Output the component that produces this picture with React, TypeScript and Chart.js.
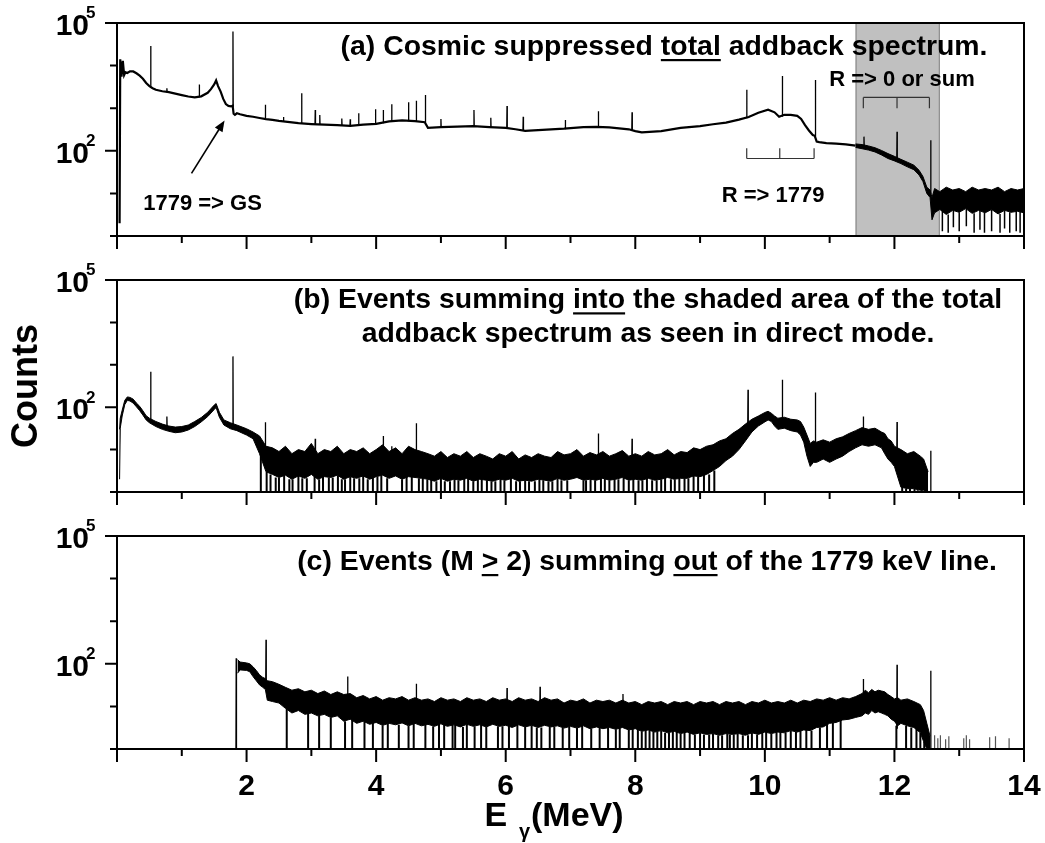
import React, { useEffect, useRef } from "react";
import { Chart, registerables } from "chart.js";

Chart.register(...registerables);

const FONT = '"Liberation Sans", Arial, Helvetica, sans-serif';

// ---------------- axes ----------------
const xMajorTicks = [0, 2, 4, 6, 8, 10, 12, 14];
const xMinorTicks = [1, 3, 5, 7, 9, 11, 13];
const xTickLabels = ["", "2", "4", "6", "8", "10", "12", "14"];
const yDecadeTicks = [1, 10, 100, 1000, 10000, 100000];
const yLabelTicks = [100, 100000];
const yLabelBase = ["10", "10"];
const yLabelExp = ["2", "5"];

// ---------------- panel (a): total addback spectrum ----------------
const aE = [0.04, 0.05, 0.07, 0.09, 0.11, 0.13, 0.16, 0.2, 0.25, 0.3, 0.35, 0.4, 0.45, 0.5, 0.55, 0.6, 0.7, 0.8, 0.9, 1.0,
  1.1, 1.2, 1.3, 1.4, 1.45, 1.5, 1.53, 1.56, 1.6, 1.64, 1.68, 1.72, 1.76, 1.785, 1.8, 1.82, 1.85, 1.9, 2.0, 2.1,
  2.2, 2.3, 2.4, 2.5, 2.6, 2.7, 2.8, 2.9, 3.0, 3.2, 3.4, 3.6, 3.8, 4.0, 4.2, 4.4, 4.6, 4.75, 4.8, 5.0,
  5.25, 5.5, 5.75, 6.0, 6.15, 6.3, 6.5, 6.7, 6.9, 7.2, 7.4, 7.6, 7.9, 8.0, 8.1, 8.4, 8.7, 9.0, 9.2, 9.4,
  9.6, 9.75, 9.9, 10.05, 10.15, 10.22, 10.3, 10.4, 10.5, 10.56, 10.62, 10.68, 10.74, 10.77, 10.8, 10.84, 10.95, 11.1, 11.25, 11.4];
const aCounts = [2, 14000, 5500, 13000, 6000, 7000, 6700, 7300, 7300, 6600, 5800, 4900, 3900, 3300, 2950, 2700, 2500, 2380, 2200, 2030,
  1880, 1800, 1900, 2300, 2800, 3600, 4500, 3300, 2450, 1650, 1250, 1130, 1100, 1150, 740, 700, 760, 720, 660, 630,
  590, 555, 530, 505, 485, 465, 445, 435, 425, 410, 400, 385, 410, 430, 490, 520, 495, 470, 345, 360,
  370, 380, 360, 345, 320, 295, 305, 320, 330, 360, 365, 355, 320, 290, 270, 290, 345, 380, 420, 460,
  540, 620, 780, 920, 800, 630, 700, 700, 660, 560, 400, 300, 235, 225, 165, 160, 152, 148, 142, 132];
const aBandE = [11.4, 11.5, 11.6, 11.7, 11.8, 11.9, 12.0, 12.1, 12.2, 12.3, 12.38, 12.44, 12.5, 12.55, 12.58,
  12.62, 12.7, 12.8, 12.9, 13.0, 13.1, 13.2, 13.3, 13.4, 13.5, 13.6, 13.7, 13.8, 13.9, 14.0];
const aBandHi = [145, 140, 130, 118, 102, 86, 74, 63, 54, 46, 35, 25, 14, 12, 8,
  13, 11, 14, 12, 13, 11, 14, 12, 13, 12, 14, 11, 13, 12, 13];
const aBandLo = [120, 112, 104, 94, 80, 66, 58, 50, 42, 36, 27, 19, 10, 8, 2.4,
  3.5, 4.2, 3.2, 4, 3.6, 4.4, 3.4, 4, 3.5, 4.2, 3.3, 4, 3.6, 3.8, 3.5];
const aPeakE = [0.52, 0.77, 1.27, 1.79, 2.29, 2.57, 2.85, 3.06, 3.13, 3.47, 3.6, 3.73, 3.99, 4.11, 4.24, 4.5,
  4.62, 4.76, 5.0, 5.51, 5.77, 6.02, 6.27, 6.92, 7.43, 7.95, 9.72, 10.27, 10.78, 11.53, 12.04, 12.56];
const aPeakTop = [29000, 2950, 3600, 63000, 1200, 620, 2240, 910, 690, 575, 550, 760, 950, 910, 1230, 1380,
  1500, 2040, 560, 910, 600, 1120, 630, 525, 850, 800, 2700, 5700, 4600, 215, 280, 178];
const aPeakBase = [3300, 2400, 1880, 1100, 555, 490, 440, 420, 415, 400, 390, 395, 430, 460, 500, 515,
  500, 470, 360, 380, 360, 340, 300, 330, 365, 300, 600, 650, 225, 125, 62, 10];
const aDropE = [12.74, 12.83, 12.91, 13.0, 13.11, 13.23, 13.32, 13.39, 13.5, 13.63, 13.7, 13.78, 13.88, 13.94];
const aDropMin = [1.3, 1.2, 1.6, 1.3, 1.7, 1.2, 1.4, 1.2, 1.3, 1.2, 1.5, 1.2, 1.3, 1.2];
const aShade = [11.4, 12.7];

// ---------------- panel (b): events summing into the shaded area ----------------
const bE = [0.04, 0.05, 0.08, 0.12, 0.16, 0.2, 0.25, 0.3, 0.35, 0.4, 0.45, 0.5, 0.6, 0.7, 0.8, 0.9, 1.0, 1.1, 1.2, 1.3,
  1.4, 1.5, 1.53, 1.58, 1.65, 1.75, 1.85, 2.0, 2.1, 2.2,
  2.3, 2.4, 2.5, 2.6, 2.7, 2.8, 2.9, 3.0, 3.1, 3.2, 3.3, 3.4, 3.5, 3.6, 3.7, 3.8, 3.9, 4.0, 4.1, 4.2,
  4.3, 4.4, 4.5, 4.6, 4.7, 4.8, 4.9, 5.0, 5.1, 5.2, 5.3, 5.4, 5.5, 5.6, 5.7, 5.8, 5.9, 6.0, 6.1, 6.2,
  6.3, 6.4, 6.5, 6.6, 6.7, 6.8, 6.9, 7.0, 7.1, 7.2, 7.3, 7.4, 7.5, 7.6, 7.7, 7.8, 7.9, 8.0, 8.1, 8.2,
  8.3, 8.4, 8.5, 8.6, 8.7, 8.8, 8.9, 9.0, 9.1,
  9.2, 9.3, 9.4, 9.5, 9.6, 9.7, 9.8, 9.9, 10.0, 10.05, 10.1, 10.15, 10.2, 10.3, 10.4, 10.5, 10.55, 10.6, 10.65, 10.7,
  10.75, 10.8, 10.9, 11.0, 11.1, 11.2, 11.3, 11.4, 11.5, 11.6, 11.7, 11.8, 11.85, 11.9, 11.95, 12.0, 12.1, 12.2, 12.3, 12.4,
  12.45, 12.52];
const bHi = [30, 55, 85, 145, 175, 170, 155, 125, 105, 82, 63, 55, 46, 40, 36, 34, 35, 38, 46, 57,
  76, 112, 122, 76, 50, 43, 38, 31, 26, 21,
  12, 11, 9, 12, 8, 10, 9, 14, 8, 10, 9, 12, 8, 10, 9, 11, 8, 10, 13, 9,
  11, 8, 12, 10, 9, 8, 7, 9, 6.5, 8, 7, 9, 6.5, 8, 7, 6, 8, 7, 9, 6,
  7.5, 6.5, 8, 7, 6.5, 9, 7.5, 8, 10, 7, 8.5, 7.5, 9, 7, 8, 9.5, 7, 8, 7, 9,
  7.5, 8, 10, 7.5, 9, 8.5, 11, 10, 12,
  13, 16, 18, 24, 30, 40, 52, 62, 75, 80, 72, 62, 55, 58, 52, 50, 46, 34, 22, 14,
  16, 15, 17, 15, 18, 20, 24, 28, 33, 30, 32, 26, 24, 18, 16, 12, 10, 8, 9, 7,
  6, 3];
const bLo = [2, 32, 62, 115, 145, 140, 125, 102, 83, 65, 50, 43, 35, 30, 27, 25, 26, 29, 35, 45,
  60, 88, 98, 58, 38, 31, 28, 22, 18, 8,
  3, 2.6, 2.2, 2.5, 2, 2.4, 2.1, 2.6, 2, 2.3, 2.2, 2.5, 2, 2.3, 2.1, 2.4, 2, 2.3, 2.5, 2.1,
  2.4, 2, 2.3, 2.2, 2.1, 2, 1.8, 2.1, 1.8, 2, 1.9, 2.1, 1.8, 2, 1.9, 1.8, 2, 1.9, 2.1, 1.8,
  1.9, 1.8, 2, 1.9, 1.8, 2.1, 1.9, 2, 2.2, 1.9, 2, 1.9, 2.1, 1.9, 2, 2.2, 1.9, 2, 1.9, 2.1,
  1.9, 2, 2.2, 2, 2.1, 2.1, 2.4, 2.3, 2.6,
  3.2, 4, 5.5, 7, 10, 16, 26, 36, 45, 50, 46, 36, 30, 32, 28, 26, 22, 15, 7, 4,
  5, 5, 6, 5, 6, 7, 9, 11, 13, 12, 13, 11, 8, 6, 5, 4, 1.3, 1.2, 1.2, 1.1,
  1.1, 1];
const bPeakE = [0.52, 0.77, 1.79, 2.29, 3.06, 4.11, 4.24, 4.62, 7.43, 7.95, 9.74, 10.27, 10.78, 11.52, 12.04, 12.56];
const bPeakTop = [690, 60, 1580, 44, 18, 21, 12, 42, 24, 18, 257, 445, 223, 60, 45, 9.4];
const bPeakBase = [50, 35, 40, 12, 6, 6, 6, 6, 5, 5, 40, 50, 8, 20, 6, 1];
const bDropE = [2.22, 2.31, 2.37, 2.45, 2.5, 2.58, 2.66, 2.71, 2.8, 2.86, 2.93, 3.05, 3.12, 3.18, 3.27, 3.33, 3.41, 3.47,
  3.52, 3.6, 3.66, 3.74, 3.8, 3.87, 3.95, 4.02, 4.08, 4.17, 4.4, 4.47, 4.55, 4.66, 4.72, 4.79, 4.85, 4.93,
  5.0, 5.06, 5.14, 5.21, 5.27, 5.36, 5.42, 5.5, 5.57, 5.63, 5.71, 5.78, 5.84, 5.92, 5.98, 6.08, 6.16, 6.22,
  6.3, 6.36, 6.45, 6.52, 6.58, 6.66, 6.72, 6.8, 6.86, 6.95, 7.2, 7.24, 7.31, 7.38, 7.47, 7.53, 7.6, 7.68,
  7.74, 7.82, 7.9, 7.97, 8.05, 8.11, 8.18, 8.26, 8.33, 8.4, 8.46, 8.55, 8.61, 8.68, 8.76, 8.82, 8.9, 8.97,
  9.06, 9.14, 9.22, 12.12, 12.18, 12.24, 12.31, 12.36, 12.42, 12.48];

// ---------------- panel (c): events (M >= 2) summing out of 1779 keV ----------------
const cE = [1.86, 1.9, 2.0, 2.05, 2.1, 2.15, 2.2, 2.25, 2.29, 2.32, 2.4, 2.5,
  2.6, 2.7, 2.8, 2.9, 3.0, 3.1, 3.2, 3.3, 3.4, 3.5, 3.6, 3.7, 3.8, 3.9, 4.0, 4.1, 4.2, 4.3, 4.4, 4.5,
  4.6, 4.7, 4.8, 4.9, 5.0, 5.1, 5.2, 5.3, 5.4, 5.5, 5.6, 5.7, 5.8, 5.9, 6.0, 6.1, 6.2, 6.3, 6.4, 6.5,
  6.6, 6.7, 6.8, 6.9, 7.0, 7.1, 7.2, 7.3, 7.4, 7.5, 7.6, 7.7, 7.8, 7.9, 8.0, 8.1, 8.2, 8.3, 8.4, 8.5,
  8.6, 8.7, 8.8, 8.9, 9.0, 9.1, 9.2, 9.3, 9.4, 9.5, 9.6, 9.7, 9.8, 9.9, 10.0, 10.1, 10.2, 10.3, 10.4, 10.5,
  10.6, 10.7, 10.8, 10.9, 11.0, 11.1, 11.2, 11.3, 11.4,
  11.5, 11.55, 11.6, 11.65, 11.7, 11.75, 11.8, 11.85, 11.9, 11.95, 12.0, 12.05, 12.1, 12.2, 12.3, 12.4, 12.45, 12.5, 12.55];
const cHi = [125, 110, 105, 100, 85, 70, 55, 48, 45, 40, 38, 33,
  28, 24, 26, 22, 24, 20, 23, 19, 22, 19, 20, 16, 18, 15, 17, 14, 16, 15, 17, 14,
  16, 14, 15, 13, 16, 14, 15, 13, 16, 14, 15, 13, 16, 14, 15, 13, 16, 14, 15, 13,
  16, 14, 15, 12, 14, 13, 15, 12, 14, 13, 14, 12, 14, 12, 13, 11, 13, 12, 13, 11,
  13, 12, 13, 11, 13, 12, 13, 11, 13, 12, 13, 11, 13, 12, 14, 12, 13, 12, 14, 12,
  14, 13, 15, 14, 16, 14, 16, 15, 17,
  20, 24, 21, 25, 22, 24, 23, 22, 19, 17, 15, 16, 14, 15, 13, 11, 8, 4, 2];
const cLo = [60, 72, 70, 65, 50, 40, 32, 28, 25, 14, 13, 12,
  9, 7, 8, 6.5, 7, 6, 6.5, 5.5, 6, 4.5, 5, 4, 4.5, 3.8, 4.2, 3.6, 4, 3.7, 4.1, 3.5,
  4, 3.5, 3.8, 3.4, 3.9, 3.4, 3.7, 3.3, 3.8, 3.4, 3.7, 3.3, 3.8, 3.4, 3.6, 3.2, 3.7, 3.3, 3.6, 3.2,
  3.6, 3.3, 3.5, 3.1, 3.4, 3.1, 3.5, 3, 3.3, 3, 3.2, 2.9, 3.2, 2.8, 3, 2.6, 2.8, 2.5, 2.7, 2.4,
  2.6, 2.3, 2.5, 2.2, 2.4, 2.2, 2.3, 2.1, 2.3, 2.2, 2.3, 2.1, 2.4, 2.2, 2.5, 2.3, 2.5, 2.4, 2.7, 2.5,
  2.8, 2.7, 3.2, 3.3, 4, 4.2, 4.8, 5, 5.5,
  6, 7, 6.5, 8, 7, 7.5, 7, 6.5, 6, 5, 4.5, 3.5, 4, 3.5, 3.2, 2.4, 1.5, 1, 1];
const cPeakE = [1.84, 2.3, 3.56, 4.62, 6.02, 6.53, 7.81, 11.52, 12.04, 12.56];
const cPeakTop = [135, 365, 50, 34, 27, 29, 19.5, 44, 95, 69];
const cPeakBase = [1, 40, 12, 10, 8, 8, 8, 15, 3, 1];
const cDropE = [2.62, 2.95, 3.12, 3.3, 3.52, 3.63, 3.82, 3.95, 4.1, 4.18, 4.35, 4.5, 4.58, 4.76, 4.88, 4.97, 5.05, 5.18,
  5.22, 5.34, 5.4, 5.52, 5.62, 5.7, 5.88, 5.95, 6.05, 6.18, 6.3, 6.4, 6.48, 6.55, 6.68, 6.75, 6.88, 6.98,
  7.1, 7.18, 7.32, 7.45, 7.58, 7.7, 7.76, 7.9, 7.96, 8.04, 8.1, 8.16, 8.22, 8.28, 8.34, 8.4, 8.46, 8.52,
  8.58, 8.64, 8.7, 8.76, 8.84, 8.92, 9.0, 9.06, 9.14, 9.2, 9.28, 9.34, 9.42, 9.46, 9.52, 9.58, 9.66, 9.74,
  9.8, 9.88, 9.96, 10.02, 10.1, 10.18, 10.24, 10.32, 10.4, 10.48, 10.55, 10.64, 10.72, 10.85, 10.96, 11.05, 11.17,
  12.03, 12.18, 12.26, 12.34, 12.4, 12.46, 12.5];
const cTailE = [12.62, 12.67, 12.71, 12.79, 12.84, 13.07, 13.11, 13.16, 13.47, 13.56, 13.77];
const cTailTop = [2.1, 1.8, 2.1, 1.7, 2.0, 1.8, 2.1, 1.7, 1.9, 2.0, 1.8];

// ---------------- helpers ----------------
type Pt = { x: number; y: number | null };
type Seg = { t: string; u?: boolean };

const pts = (xs: number[], ys: number[]): Pt[] => {
  const n = Math.min(xs.length, ys.length);
  return xs.slice(0, n).map((x, i) => ({ x, y: ys[i] }));
};

function spikes(es: number[], tops: number[], bases: number[]): Pt[] {
  const out: Pt[] = [];
  es.forEach((e, i) => {
    out.push({ x: e - 0.004, y: bases[i] }, { x: e, y: tops[i] }, { x: e + 0.004, y: bases[i] }, { x: e + 0.005, y: null });
  });
  return out;
}

function verticals(es: number[], tops: number[], bottoms: number[]): Pt[] {
  const out: Pt[] = [];
  es.forEach((e, i) => {
    out.push({ x: e, y: tops[i] }, { x: e, y: bottoms[i] }, { x: e + 0.0005, y: null });
  });
  return out;
}

function nearest(e: number, es: number[], vals: number[]): number {
  let best = 0;
  es.forEach((v, i) => {
    if (Math.abs(v - e) < Math.abs(es[best] - e)) best = i;
  });
  return vals[best];
}

const ds = (data: Pt[], width: number, extra: any = {}) => ({
  data,
  borderColor: "#000",
  backgroundColor: "#000",
  borderWidth: width,
  pointRadius: 0,
  fill: false,
  spanGaps: false,
  tension: 0,
  ...extra,
});

function bandSets(es: number[], hi: number[], lo: number[]) {
  return [ds(pts(es, lo), 1), ds(pts(es, hi), 1, { fill: "-1" })];
}

// ---------------- panel specs ----------------
interface PanelSpec {
  padTop: number;
  padBottom: number;
  datasets: any[];
  shade?: number[];
  texts: { dx: number; dy: number; size: number; segs: Seg[] }[];
  arrow?: { from: number[]; to: number[] };
  brackets?: { es: number[]; y: number; tickTo: number }[];
  xLabels: boolean;
}

const panelA: PanelSpec = {
  padTop: 23,
  padBottom: 24,
  datasets: [
    ds(pts(aE, aCounts), 2.2),
    ...bandSets(aBandE, aBandHi, aBandLo),
    ds(spikes(aPeakE, aPeakTop, aPeakBase), 1.3),
    ds(verticals(aDropE, aDropE.map((e) => nearest(e, aBandE, aBandLo)), aDropMin), 1.5),
  ],
  shade: aShade,
  texts: [
    { dx: 547, dy: 32, size: 28.4, segs: [{ t: "(a) Cosmic suppressed " }, { t: "total", u: true }, { t: " addback spectrum." }] },
    { dx: 785, dy: 63, size: 22, segs: [{ t: "R => 0 or sum" }] },
    { dx: 656, dy: 178.7, size: 22, segs: [{ t: "R => 1779" }] },
    { dx: 85.5, dy: 187, size: 22, segs: [{ t: "1779 => GS" }] },
  ],
  arrow: { from: [1.15, 29.5], to: [1.66, 513] },
  brackets: [
    { es: [9.72, 10.23, 10.76], y: 66, tickTo: 115 },
    { es: [11.52, 12.04, 12.54], y: 1790, tickTo: 1000 },
  ],
  xLabels: false,
};

const panelB: PanelSpec = {
  padTop: 20,
  padBottom: 23,
  datasets: [
    ...bandSets(bE, bHi, bLo),
    ds(spikes(bPeakE, bPeakTop, bPeakBase), 1.3),
    ds(verticals(bDropE, bDropE.map((e) => nearest(e, bE, bLo)), bDropE.map(() => 1)), 2),
  ],
  texts: [
    { dx: 531, dy: 28.3, size: 28.4, segs: [{ t: "(b) Events summing " }, { t: "into", u: true }, { t: " the shaded area of the total" }] },
    { dx: 531, dy: 61.7, size: 28.4, segs: [{ t: "addback spectrum as seen in direct mode." }] },
  ],
  xLabels: false,
};

const panelC: PanelSpec = {
  padTop: 21,
  padBottom: 94,
  datasets: [
    ...bandSets(cE, cHi, cLo),
    ds(spikes(cPeakE, cPeakTop, cPeakBase), 1.3),
    ds(verticals(cDropE, cDropE.map((e) => nearest(e, cE, cLo)), cDropE.map(() => 1)), 2),
    ds(verticals(cTailE, cTailTop, cTailE.map(() => 1)), 1.2, { borderColor: "#555" }),
  ],
  texts: [
    {
      dx: 530,
      dy: 34,
      size: 28.4,
      segs: [{ t: "(c) Events (M " }, { t: ">", u: true }, { t: " 2) summing " }, { t: "out", u: true }, { t: " of the 1779 keV line." }],
    },
  ],
  xLabels: true,
};

// ---------------- drawing plugin ----------------
function makePlugin(spec: PanelSpec) {
  return {
    id: "panelDecor",
    beforeDatasetsDraw(chart: any) {
      const { ctx, chartArea: ca, scales } = chart;
      if (spec.shade) {
        const x0 = scales.x.getPixelForValue(spec.shade[0]);
        const x1 = scales.x.getPixelForValue(spec.shade[1]);
        ctx.save();
        ctx.fillStyle = "#c0c0c0";
        ctx.fillRect(x0, ca.top, x1 - x0, ca.bottom - ca.top);
        ctx.strokeStyle = "#808080";
        ctx.lineWidth = 1;
        ctx.strokeRect(x0 + 0.5, ca.top, x1 - x0 - 1, ca.bottom - ca.top);
        ctx.restore();
      }
    },
    afterDatasetsDraw(chart: any) {
      const { ctx, chartArea: ca, scales } = chart;
      const xs = scales.x;
      const ys = scales.y;
      ctx.save();
      ctx.strokeStyle = "#000";
      ctx.lineWidth = 2;
      ctx.strokeRect(ca.left, ca.top, ca.right - ca.left, ca.bottom - ca.top);
      ctx.beginPath();
      xMajorTicks.forEach((v) => {
        const p = xs.getPixelForValue(v);
        ctx.moveTo(p, ca.bottom);
        ctx.lineTo(p, ca.bottom + 13);
      });
      xMinorTicks.forEach((v) => {
        const p = xs.getPixelForValue(v);
        ctx.moveTo(p, ca.bottom);
        ctx.lineTo(p, ca.bottom + 7);
      });
      yDecadeTicks.forEach((v) => {
        const p = ys.getPixelForValue(v);
        const len = yLabelTicks.includes(v) ? 12 : 7;
        ctx.moveTo(ca.left, p);
        ctx.lineTo(ca.left - len, p);
      });
      ctx.stroke();
      ctx.fillStyle = "#000";
      yLabelTicks.forEach((v, i) => {
        const p = ys.getPixelForValue(v);
        ctx.font = `bold 30px ${FONT}`;
        ctx.textAlign = "right";
        ctx.textBaseline = "alphabetic";
        ctx.fillText(yLabelBase[i], ca.left - 28, p + 12);
        ctx.font = `bold 17px ${FONT}`;
        ctx.textAlign = "left";
        ctx.fillText(yLabelExp[i], ca.left - 31, p - 4.7);
      });
      if (spec.xLabels) {
        ctx.font = `bold 30px ${FONT}`;
        ctx.textAlign = "center";
        ctx.textBaseline = "alphabetic";
        xMajorTicks.forEach((v, i) => {
          if (!xTickLabels[i]) return;
          ctx.fillText(xTickLabels[i], xs.getPixelForValue(v), ca.bottom + 46);
        });
        ctx.textAlign = "left";
        ctx.font = `bold 34px ${FONT}`;
        ctx.fillText("E", 484.5, ca.bottom + 77);
        ctx.font = `bold 20px ${FONT}`;
        ctx.fillText("γ", 519, ca.bottom + 88.5);
        ctx.font = `bold 34px ${FONT}`;
        ctx.fillText("(MeV)", 531, ca.bottom + 77);
      }
      ctx.restore();
    },
    afterDraw(chart: any) {
      const { ctx, chartArea: ca, scales } = chart;
      const xs = scales.x;
      const ys = scales.y;
      ctx.save();
      ctx.fillStyle = "#000";
      spec.texts.forEach((t) => {
        ctx.font = `bold ${t.size}px ${FONT}`;
        ctx.textAlign = "left";
        ctx.textBaseline = "alphabetic";
        const widths = t.segs.map((s) => ctx.measureText(s.t).width);
        const total = widths.reduce((a, b) => a + b, 0);
        let x = ca.left + t.dx - total / 2;
        const y = ca.top + t.dy;
        t.segs.forEach((s, i) => {
          ctx.fillText(s.t, x, y);
          if (s.u) ctx.fillRect(x, y + 4, widths[i], 2.2);
          x += widths[i];
        });
      });
      if (spec.arrow) {
        const x0 = xs.getPixelForValue(spec.arrow.from[0]);
        const y0 = ys.getPixelForValue(spec.arrow.from[1]);
        const x1 = xs.getPixelForValue(spec.arrow.to[0]);
        const y1 = ys.getPixelForValue(spec.arrow.to[1]);
        const ang = Math.atan2(y1 - y0, x1 - x0);
        const hl = 11;
        const hw = 4.5;
        ctx.strokeStyle = "#000";
        ctx.lineWidth = 1.6;
        ctx.beginPath();
        ctx.moveTo(x0, y0);
        ctx.lineTo(x1 - Math.cos(ang) * hl * 0.8, y1 - Math.sin(ang) * hl * 0.8);
        ctx.stroke();
        ctx.beginPath();
        ctx.moveTo(x1, y1);
        ctx.lineTo(x1 - Math.cos(ang) * hl - Math.sin(ang) * hw, y1 - Math.sin(ang) * hl + Math.cos(ang) * hw);
        ctx.lineTo(x1 - Math.cos(ang) * hl + Math.sin(ang) * hw, y1 - Math.sin(ang) * hl - Math.cos(ang) * hw);
        ctx.closePath();
        ctx.fill();
      }
      (spec.brackets || []).forEach((b) => {
        ctx.strokeStyle = "#333";
        ctx.lineWidth = 1.2;
        const yy = ys.getPixelForValue(b.y);
        const yt = ys.getPixelForValue(b.tickTo);
        ctx.beginPath();
        ctx.moveTo(xs.getPixelForValue(b.es[0]), yy);
        ctx.lineTo(xs.getPixelForValue(b.es[b.es.length - 1]), yy);
        b.es.forEach((e) => {
          const px = xs.getPixelForValue(e);
          ctx.moveTo(px, yy);
          ctx.lineTo(px, yt);
        });
        ctx.stroke();
      });
      ctx.restore();
    },
  };
}

function buildConfig(spec: PanelSpec): any {
  return {
    type: "line",
    data: { datasets: spec.datasets },
    options: {
      animation: false,
      responsive: false,
      maintainAspectRatio: false,
      events: [],
      layout: { padding: { left: 117, right: 21, top: spec.padTop, bottom: spec.padBottom } },
      plugins: { legend: { display: false }, tooltip: { enabled: false } },
      scales: {
        x: { type: "linear", min: 0, max: 14, display: false },
        y: { type: "logarithmic", min: 1, max: 100000, display: false },
      },
      elements: { point: { radius: 0 }, line: { tension: 0 } },
    },
    plugins: [makePlugin(spec)],
  };
}

export default function App() {
  const refA = useRef<HTMLCanvasElement>(null);
  const refB = useRef<HTMLCanvasElement>(null);
  const refC = useRef<HTMLCanvasElement>(null);

  useEffect(() => {
    const charts = [
      new Chart(refA.current as HTMLCanvasElement, buildConfig(panelA)),
      new Chart(refB.current as HTMLCanvasElement, buildConfig(panelB)),
      new Chart(refC.current as HTMLCanvasElement, buildConfig(panelC)),
    ];
    return () => charts.forEach((c) => c.destroy());
  }, []);

  const cv = (top: number, h: number): React.CSSProperties => ({
    position: "absolute",
    left: 0,
    top,
    width: 1045,
    height: h,
    display: "block",
  });

  return (
    <div style={{ position: "absolute", left: 0, top: 0, width: 1045, height: 843, background: "#fff", overflow: "hidden" }}>
      <canvas ref={refA} width={1045} height={260} style={cv(0, 260)} />
      <canvas ref={refB} width={1045} height={255} style={cv(260, 255)} />
      <canvas ref={refC} width={1045} height={328} style={cv(515, 328)} />
      <div
        style={{
          position: "absolute",
          left: 25,
          top: 386,
          transform: "translate(-50%, -50%) rotate(-90deg)",
          font: `bold 36px ${FONT}`,
          whiteSpace: "nowrap",
          lineHeight: 1,
          color: "#000",
        }}
      >
        Counts
      </div>
    </div>
  );
}
